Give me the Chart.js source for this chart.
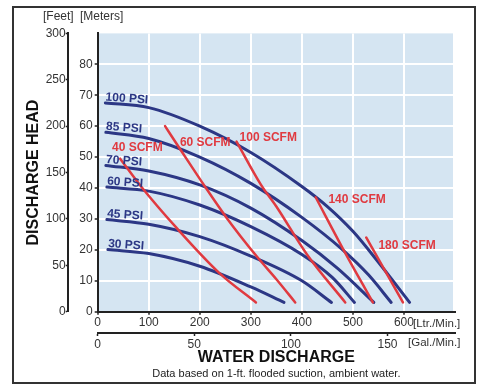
<!DOCTYPE html>
<html>
<head>
<meta charset="utf-8">
<script src="https://cdn.jsdelivr.net/npm/chart.js@4.4.1/dist/chart.umd.min.js"></script>
<style>
    html, body { margin: 0; padding: 0; background: #fff; }
    #wrap { width: 498px; height: 389px; }
</style>
</head>
<body>
<div id="wrap"><canvas id="pump-chart" width="498" height="389"></canvas></div>
<script>
(function () {

    // air pressure curves: flow [Ltr/Min] -> head [m]
    var psiNames = ["100 PSI", "85 PSI", "70 PSI", "60 PSI", "45 PSI", "30 PSI"];
    var psi100Flow = [15, 100, 200, 300, 400, 450, 500, 550, 611];
    var psi100Head = [67.5, 66, 60, 51.5, 40.5, 34, 26, 16, 3];
    var psi85Flow = [16, 100, 200, 300, 400, 480, 530, 575];
    var psi85Head = [58, 56, 50, 41.5, 30.5, 20, 12, 3];
    var psi70Flow = [16, 100, 200, 300, 400, 470, 541];
    var psi70Head = [47.3, 45.5, 41, 33.5, 23, 14, 3];
    var psi60Flow = [18, 100, 200, 300, 400, 460, 503];
    var psi60Head = [40.3, 39, 34.5, 27.5, 18.5, 11, 3];
    var psi45Flow = [18, 100, 200, 300, 400, 458];
    var psi45Head = [29.8, 28.3, 24.3, 18, 10, 3];
    var psi30Flow = [20, 100, 200, 300, 365];
    var psi30Head = [20.1, 18.8, 14.7, 8, 3];

    // air consumption lines
    var scfmNames = ["40 SCFM", "60 SCFM", "100 SCFM", "140 SCFM", "180 SCFM"];
    var scfm40Flow = [44, 85, 155, 239, 310];
    var scfm40Head = [49.5, 40.5, 27, 12.4, 3];
    var scfm60Flow = [132, 161, 210, 252, 311, 350, 387];
    var scfm60Head = [60, 52.7, 40.5, 30.5, 18, 10.5, 3];
    var scfm100Flow = [272, 320, 350, 410, 485];
    var scfm100Head = [55, 41, 34, 18.5, 3];
    var scfm140Flow = [427, 480, 539];
    var scfm140Head = [37, 20.5, 3];
    var scfm180Flow = [526, 562, 598];
    var scfm180Head = [24, 13.5, 3];

    var meterTicks = [0, 10, 20, 30, 40, 50, 60, 70, 80];
    var feetTicks = [0, 50, 100, 150, 200, 250, 300];
    var literTicks = [0, 100, 200, 300, 400, 500, 600];
    var gallonTicks = [0, 50, 100, 150];

    var BLUE = "#2c3785";
    var RED = "#e03a40";
    var INK = "#333";

    Chart.defaults.font.family = "'Liberation Sans', Arial, sans-serif";
    Chart.defaults.font.size = 12;
    Chart.defaults.color = INK;

    function points(flow, head) {
        return flow.map(function (f, i) { return { x: f, y: head[i] }; });
    }

    function curve(name, flow, head, color, width) {
        return {
            label: name,
            data: points(flow, head),
            showLine: true,
            borderColor: color,
            borderWidth: width,
            borderCapStyle: "round",
            pointRadius: 0,
            cubicInterpolationMode: "monotone"
        };
    }

    var psiCurves = [
        [psi100Flow, psi100Head], [psi85Flow, psi85Head], [psi70Flow, psi70Head],
        [psi60Flow, psi60Head], [psi45Flow, psi45Head], [psi30Flow, psi30Head]
    ];
    var scfmCurves = [
        [scfm40Flow, scfm40Head], [scfm60Flow, scfm60Head], [scfm100Flow, scfm100Head],
        [scfm140Flow, scfm140Head], [scfm180Flow, scfm180Head]
    ];

    // red first so it is painted on top
    var datasets = [];
    scfmCurves.forEach(function (c, i) { datasets.push(curve(scfmNames[i], c[0], c[1], RED, 2.5)); });
    psiCurves.forEach(function (c, i) { datasets.push(curve(psiNames[i], c[0], c[1], BLUE, 3)); });

    // where the SCFM names sit (flow, head of the text's left middle)
    var scfmLabelSpots = [[28, 53], [161, 54.6], [278, 56.4], [452, 36.1], [550, 21.2]];

    function gridColor(c) {
        return c.tick && c.tick.value === 0 ? "rgba(0,0,0,0)" : "#ffffff";
    }

    function fixTicks(values) {
        return function (scale) {
            scale.ticks = values.map(function (v) { return { value: v }; });
        };
    }

    var Decor = {
        id: "decor",
        beforeDraw: function (chart) {
            var a = chart.chartArea, ctx = chart.ctx;
            ctx.save();
            ctx.fillStyle = "#fff";
            ctx.fillRect(0, 0, chart.width, chart.height);
            ctx.fillStyle = "#d5e5f2";
            ctx.fillRect(a.left + 1, a.top, a.right - a.left - 3, a.bottom - a.top);
            ctx.restore();
        },
        afterDatasetsDraw: function (chart) {
            var ctx = chart.ctx, sx = chart.scales.x, sy = chart.scales.y;
            ctx.save();
            ctx.font = "bold 12px 'Liberation Sans', Arial, sans-serif";
            ctx.textAlign = "left";

            ctx.fillStyle = BLUE;
            ctx.textBaseline = "alphabetic";
            psiCurves.forEach(function (c, i) {
                ctx.save();
                ctx.translate(sx.getPixelForValue(c[0][0]), sy.getPixelForValue(c[1][0]) - 2.5);
                ctx.rotate(0.07);
                ctx.fillText(psiNames[i], 0, 0);
                ctx.restore();
            });

            ctx.fillStyle = RED;
            ctx.textBaseline = "middle";
            scfmLabelSpots.forEach(function (p, i) {
                ctx.fillText(scfmNames[i], sx.getPixelForValue(p[0]), sy.getPixelForValue(p[1]));
            });
            ctx.restore();
        },
        afterDraw: function (chart) {
            var ctx = chart.ctx, a = chart.chartArea;
            ctx.save();
            ctx.strokeStyle = "#333";
            ctx.lineWidth = 2;
            ctx.strokeRect(13, 7, 462, 376);

            ctx.fillStyle = INK;
            ctx.font = "12px 'Liberation Sans', Arial, sans-serif";
            ctx.textBaseline = "middle";
            ctx.textAlign = "left";
            ctx.fillText("[Feet]", 43, 17);
            ctx.fillText("[Meters]", 80, 17);
            ctx.font = "11.5px 'Liberation Sans', Arial, sans-serif";
            ctx.fillText("[Ltr./Min.]", 413, 324);
            ctx.fillText("[Gal./Min.]", 408, 343);

            ctx.fillStyle = "#222";
            ctx.font = "11px 'Liberation Sans', Arial, sans-serif";
            ctx.textAlign = "center";
            ctx.fillText("Data based on 1-ft. flooded suction, ambient water.", (a.left + a.right) / 2, 374);
            ctx.restore();
        }
    };

    var canvas = document.getElementById("pump-chart");
    new Chart(canvas, {
        type: "scatter",
        data: { datasets: datasets },
        options: {
            responsive: false,
            animation: false,
            events: [],
            layout: { padding: { left: 20, right: 43, top: 33.4, bottom: 21.4 } },
            plugins: {
                legend: { display: false },
                tooltip: { enabled: false }
            },
            scales: {
                x: {
                    type: "linear",
                    position: "bottom",
                    weight: 0,
                    min: 0,
                    max: 700,
                    afterBuildTicks: fixTicks(literTicks),
                    afterFit: function (s) { s.height = 21.3; },
                    ticks: { padding: 1, maxRotation: 0, autoSkip: false },
                    grid: { color: gridColor, lineWidth: 2, tickColor: "#222", tickLength: 3, tickWidth: 1.5 },
                    border: { color: "#222", width: 2 }
                },
                gal: {
                    type: "linear",
                    axis: "x",
                    position: "bottom",
                    weight: 1,
                    min: 0,
                    max: 700 / 3.785,
                    afterBuildTicks: fixTicks(gallonTicks),
                    afterFit: function (s) { s.height = 34.6; },
                    ticks: { padding: 1, maxRotation: 0, autoSkip: false },
                    grid: { drawOnChartArea: false, tickColor: "#222", tickLength: 3, tickWidth: 1.5 },
                    border: { color: "#222", width: 2 },
                    title: {
                        display: true,
                        text: "WATER DISCHARGE",
                        color: "#111",
                        font: { size: 16, weight: "bold" },
                        padding: { top: 0, bottom: 0 }
                    }
                },
                y: {
                    type: "linear",
                    position: "left",
                    weight: 0,
                    min: 0,
                    max: 90,
                    afterBuildTicks: fixTicks(meterTicks),
                    afterFit: function (s) { s.width = 30; },
                    ticks: { padding: 2, autoSkip: false },
                    grid: { color: gridColor, lineWidth: 2, tickColor: "#222", tickLength: 3, tickWidth: 1.5 },
                    border: { color: "#222", width: 2 }
                },
                feet: {
                    type: "linear",
                    axis: "y",
                    position: "left",
                    weight: 1,
                    min: 0,
                    max: 300,
                    afterBuildTicks: fixTicks(feetTicks),
                    afterFit: function (s) { s.width = 47.7; },
                    ticks: { padding: 0, autoSkip: false },
                    grid: { drawOnChartArea: false, tickColor: "#222", tickLength: 2, tickWidth: 1.5 },
                    border: { color: "#222", width: 2 },
                    title: {
                        display: true,
                        text: "DISCHARGE HEAD",
                        color: "#111",
                        font: { size: 16, weight: "bold" },
                        padding: { top: 4, bottom: 0 }
                    }
                }
            }
        },
        plugins: [Decor]
    });
})();
</script>
</body>
</html>
